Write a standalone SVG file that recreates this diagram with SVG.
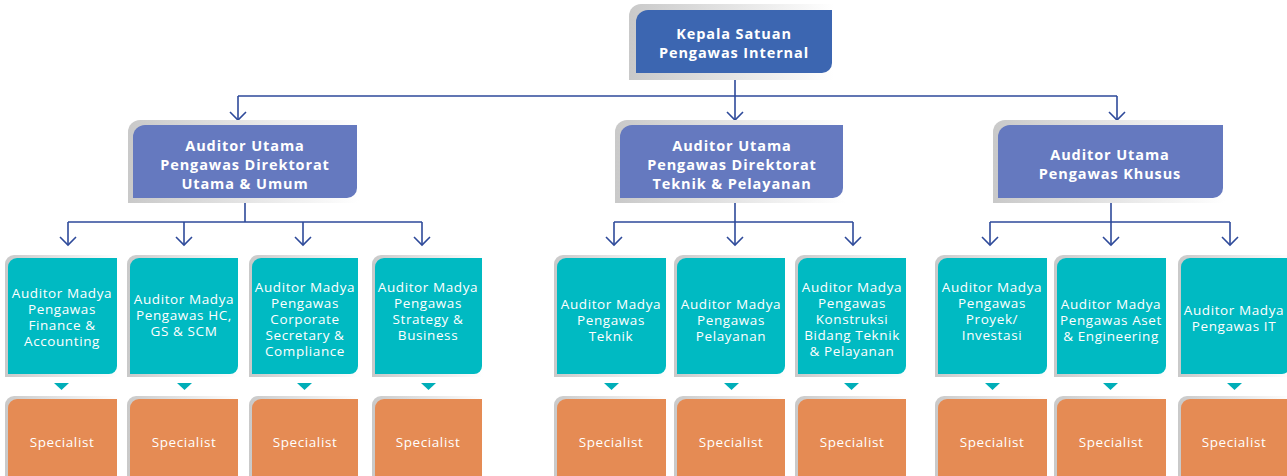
<svg xmlns="http://www.w3.org/2000/svg" width="1287" height="476" viewBox="0 0 1287 476">
<defs>
<linearGradient id="shadow" x1="0" y1="0" x2="1" y2="0">
<stop offset="0" stop-color="#c9c9c9"/>
<stop offset="0.5" stop-color="#e4e4e4"/>
<stop offset="1" stop-color="#ffffff"/>
</linearGradient>
<marker id="arr" markerUnits="userSpaceOnUse" markerWidth="20" markerHeight="20" viewBox="-10 -10 20 20" refX="0" refY="0" orient="auto">
<path d="M-8,-8 L0,0 L-8,8" fill="none" stroke="#2E4A9A" stroke-width="1.6"/>
</marker>
</defs>
<style>
.sh{fill:url(#shadow)}
.top{fill:#3C66B1}
.l2{fill:#6579BF}
.l3{fill:#00BAC2}
.sp{fill:#E58B54}
.tri{fill:#00AEB8}
.t1{font-family:"Open Sans","Liberation Sans",sans-serif;font-weight:700;font-size:14.5px;letter-spacing:0.9px;fill:#fff;text-anchor:middle;dominant-baseline:central}
.t3{font-family:"Open Sans","Liberation Sans",sans-serif;font-size:13.5px;letter-spacing:0.6px;fill:#fff;text-anchor:middle;dominant-baseline:central}
.con path{fill:none;stroke:#2E4A9A;stroke-width:1.6}
</style>

<g class="con" id="connectors">
<path d="M735,80 V96 M238,96 H1117"/>
<path d="M238,96 V120" marker-end="url(#arr)"/>
<path d="M735,96 V120" marker-end="url(#arr)"/>
<path d="M1117,96 V120" marker-end="url(#arr)"/>
<path d="M245,203 V222 M68,222 H422"/>
<path d="M68,222 V245" marker-end="url(#arr)"/>
<path d="M184,222 V245" marker-end="url(#arr)"/>
<path d="M303,222 V245" marker-end="url(#arr)"/>
<path d="M422,222 V245" marker-end="url(#arr)"/>
<path d="M735,203 V222 M614,222 H853"/>
<path d="M614,222 V245" marker-end="url(#arr)"/>
<path d="M735,222 V245" marker-end="url(#arr)"/>
<path d="M853,222 V245" marker-end="url(#arr)"/>
<path d="M1111,203 V222 M990,222 H1230"/>
<path d="M990,222 V245" marker-end="url(#arr)"/>
<path d="M1111,222 V245" marker-end="url(#arr)"/>
<path d="M1230,222 V245" marker-end="url(#arr)"/>
</g>

<g id="kepala">
<path class="sh" d="M641,4 H834 V80 H629 V16 A12,12 0 0 1 641,4 Z"/>
<path class="top" d="M648,10 H832 V63 A10,10 0 0 1 822,73 H636 V22 A12,12 0 0 1 648,10 Z"/>
<text class="t1" x="734" y="33">Kepala Satuan</text>
<text class="t1" x="734" y="52">Pengawas Internal</text>
</g>

<g id="au-utama-umum">
<path class="sh" d="M140,120 H359 V203 H128 V132 A12,12 0 0 1 140,120 Z"/>
<path class="l2" d="M145,125 H357 V188 A10,10 0 0 1 347,198 H133 V137 A12,12 0 0 1 145,125 Z"/>
<text class="t1" x="245" y="145">Auditor Utama</text>
<text class="t1" x="245" y="164">Pengawas Direktorat</text>
<text class="t1" x="245" y="183">Utama &amp; Umum</text>
</g>

<g id="au-teknik">
<path class="sh" d="M627,120 H845 V203 H615 V132 A12,12 0 0 1 627,120 Z"/>
<path class="l2" d="M632,125 H843 V188 A10,10 0 0 1 833,198 H620 V137 A12,12 0 0 1 632,125 Z"/>
<text class="t1" x="732" y="145">Auditor Utama</text>
<text class="t1" x="732" y="164">Pengawas Direktorat</text>
<text class="t1" x="732" y="183">Teknik &amp; Pelayanan</text>
</g>

<g id="au-khusus">
<path class="sh" d="M1005,120 H1225 V203 H993 V132 A12,12 0 0 1 1005,120 Z"/>
<path class="l2" d="M1010,125 H1223 V188 A10,10 0 0 1 1213,198 H998 V137 A12,12 0 0 1 1010,125 Z"/>
<text class="t1" x="1110" y="154">Auditor Utama</text>
<text class="t1" x="1110" y="173">Pengawas Khusus</text>
</g>

<!-- Level 3 teal boxes -->
<g id="am-finance">
<path class="sh" d="M14,255 H118 V377 H5 V264 A9,9 0 0 1 14,255 Z"/>
<path class="l3" d="M17,258 H117 V366 A8,8 0 0 1 109,374 H8 V267 A9,9 0 0 1 17,258 Z"/>
<text class="t3" x="62" y="293">Auditor Madya</text>
<text class="t3" x="62" y="309">Pengawas</text>
<text class="t3" x="62" y="325">Finance &amp;</text>
<text class="t3" x="62" y="341">Accounting</text>
</g>
<g id="am-hc">
<path class="sh" d="M136,255 H239 V377 H127 V264 A9,9 0 0 1 136,255 Z"/>
<path class="l3" d="M139,258 H238 V366 A8,8 0 0 1 230,374 H130 V267 A9,9 0 0 1 139,258 Z"/>
<text class="t3" x="184" y="299">Auditor Madya</text>
<text class="t3" x="184" y="315">Pengawas HC,</text>
<text class="t3" x="184" y="331">GS &amp; SCM</text>
</g>
<g id="am-corsec">
<path class="sh" d="M258,255 H359 V377 H249 V264 A9,9 0 0 1 258,255 Z"/>
<path class="l3" d="M261,258 H358 V366 A8,8 0 0 1 350,374 H252 V267 A9,9 0 0 1 261,258 Z"/>
<text class="t3" x="305" y="287">Auditor Madya</text>
<text class="t3" x="305" y="303">Pengawas</text>
<text class="t3" x="305" y="319">Corporate</text>
<text class="t3" x="305" y="335">Secretary &amp;</text>
<text class="t3" x="305" y="351">Compliance</text>
</g>
<g id="am-strategy">
<path class="sh" d="M381,255 H483 V377 H372 V264 A9,9 0 0 1 381,255 Z"/>
<path class="l3" d="M384,258 H482 V366 A8,8 0 0 1 474,374 H375 V267 A9,9 0 0 1 384,258 Z"/>
<text class="t3" x="428" y="287">Auditor Madya</text>
<text class="t3" x="428" y="303">Pengawas</text>
<text class="t3" x="428" y="319">Strategy &amp;</text>
<text class="t3" x="428" y="335">Business</text>
</g>
<g id="am-teknik">
<path class="sh" d="M563,255 H667 V377 H554 V264 A9,9 0 0 1 563,255 Z"/>
<path class="l3" d="M566,258 H666 V366 A8,8 0 0 1 658,374 H557 V267 A9,9 0 0 1 566,258 Z"/>
<text class="t3" x="611" y="304">Auditor Madya</text>
<text class="t3" x="611" y="320">Pengawas</text>
<text class="t3" x="611" y="336">Teknik</text>
</g>
<g id="am-pelayanan">
<path class="sh" d="M683,255 H786 V377 H674 V264 A9,9 0 0 1 683,255 Z"/>
<path class="l3" d="M686,258 H785 V366 A8,8 0 0 1 777,374 H677 V267 A9,9 0 0 1 686,258 Z"/>
<text class="t3" x="731" y="304">Auditor Madya</text>
<text class="t3" x="731" y="320">Pengawas</text>
<text class="t3" x="731" y="336">Pelayanan</text>
</g>
<g id="am-konstruksi">
<path class="sh" d="M804,255 H907 V377 H795 V264 A9,9 0 0 1 804,255 Z"/>
<path class="l3" d="M807,258 H906 V366 A8,8 0 0 1 898,374 H798 V267 A9,9 0 0 1 807,258 Z"/>
<text class="t3" x="852" y="287">Auditor Madya</text>
<text class="t3" x="852" y="303">Pengawas</text>
<text class="t3" x="852" y="319">Konstruksi</text>
<text class="t3" x="852" y="335">Bidang Teknik</text>
<text class="t3" x="852" y="351">&amp; Pelayanan</text>
</g>
<g id="am-proyek">
<path class="sh" d="M944,255 H1048 V377 H935 V264 A9,9 0 0 1 944,255 Z"/>
<path class="l3" d="M947,258 H1047 V366 A8,8 0 0 1 1039,374 H938 V267 A9,9 0 0 1 947,258 Z"/>
<text class="t3" x="992" y="287">Auditor Madya</text>
<text class="t3" x="992" y="303">Pengawas</text>
<text class="t3" x="992" y="319">Proyek/</text>
<text class="t3" x="992" y="335">Investasi</text>
</g>
<g id="am-aset">
<path class="sh" d="M1063,255 H1167 V377 H1054 V264 A9,9 0 0 1 1063,255 Z"/>
<path class="l3" d="M1066,258 H1166 V366 A8,8 0 0 1 1158,374 H1057 V267 A9,9 0 0 1 1066,258 Z"/>
<text class="t3" x="1111" y="304">Auditor Madya</text>
<text class="t3" x="1111" y="320">Pengawas Aset</text>
<text class="t3" x="1111" y="336">&amp; Engineering</text>
</g>
<g id="am-it">
<path class="sh" d="M1187,255 H1292 V377 H1178 V264 A9,9 0 0 1 1187,255 Z"/>
<path class="l3" d="M1190,258 H1290 V366 A8,8 0 0 1 1282,374 H1181 V267 A9,9 0 0 1 1190,258 Z"/>
<text class="t3" x="1234" y="310">Auditor Madya</text>
<text class="t3" x="1234" y="326">Pengawas IT</text>
</g>

<!-- triangles -->
<g id="triangles">
<polygon class="tri" points="54,383 69,383 61.5,390"/>
<polygon class="tri" points="177,383 192,383 184.5,390"/>
<polygon class="tri" points="297,383 312,383 304.5,390"/>
<polygon class="tri" points="421,383 436,383 428.5,390"/>
<polygon class="tri" points="604,383 619,383 611.5,390"/>
<polygon class="tri" points="724,383 739,383 731.5,390"/>
<polygon class="tri" points="844,383 859,383 851.5,390"/>
<polygon class="tri" points="985,383 1000,383 992.5,390"/>
<polygon class="tri" points="1103,383 1118,383 1110.5,390"/>
<polygon class="tri" points="1227,383 1242,383 1234.5,390"/>
</g>

<!-- specialists -->
<g id="sp-1"><path class="sh" d="M14,396 H118 V480 H5 V405 A9,9 0 0 1 14,396 Z"/><path class="sp" d="M17,399 H117 V480 H8 V408 A9,9 0 0 1 17,399 Z"/><text class="t3" x="62" y="442">Specialist</text></g>
<g id="sp-2"><path class="sh" d="M136,396 H239 V480 H127 V405 A9,9 0 0 1 136,396 Z"/><path class="sp" d="M139,399 H238 V480 H130 V408 A9,9 0 0 1 139,399 Z"/><text class="t3" x="184" y="442">Specialist</text></g>
<g id="sp-3"><path class="sh" d="M258,396 H359 V480 H249 V405 A9,9 0 0 1 258,396 Z"/><path class="sp" d="M261,399 H358 V480 H252 V408 A9,9 0 0 1 261,399 Z"/><text class="t3" x="305" y="442">Specialist</text></g>
<g id="sp-4"><path class="sh" d="M381,396 H483 V480 H372 V405 A9,9 0 0 1 381,396 Z"/><path class="sp" d="M384,399 H482 V480 H375 V408 A9,9 0 0 1 384,399 Z"/><text class="t3" x="428" y="442">Specialist</text></g>
<g id="sp-5"><path class="sh" d="M563,396 H667 V480 H554 V405 A9,9 0 0 1 563,396 Z"/><path class="sp" d="M566,399 H666 V480 H557 V408 A9,9 0 0 1 566,399 Z"/><text class="t3" x="611" y="442">Specialist</text></g>
<g id="sp-6"><path class="sh" d="M683,396 H786 V480 H674 V405 A9,9 0 0 1 683,396 Z"/><path class="sp" d="M686,399 H785 V480 H677 V408 A9,9 0 0 1 686,399 Z"/><text class="t3" x="731" y="442">Specialist</text></g>
<g id="sp-7"><path class="sh" d="M804,396 H907 V480 H795 V405 A9,9 0 0 1 804,396 Z"/><path class="sp" d="M807,399 H906 V480 H798 V408 A9,9 0 0 1 807,399 Z"/><text class="t3" x="852" y="442">Specialist</text></g>
<g id="sp-8"><path class="sh" d="M944,396 H1048 V480 H935 V405 A9,9 0 0 1 944,396 Z"/><path class="sp" d="M947,399 H1047 V480 H938 V408 A9,9 0 0 1 947,399 Z"/><text class="t3" x="992" y="442">Specialist</text></g>
<g id="sp-9"><path class="sh" d="M1063,396 H1167 V480 H1054 V405 A9,9 0 0 1 1063,396 Z"/><path class="sp" d="M1066,399 H1166 V480 H1057 V408 A9,9 0 0 1 1066,399 Z"/><text class="t3" x="1111" y="442">Specialist</text></g>
<g id="sp-10"><path class="sh" d="M1187,396 H1292 V480 H1178 V405 A9,9 0 0 1 1187,396 Z"/><path class="sp" d="M1190,399 H1290 V480 H1181 V408 A9,9 0 0 1 1190,399 Z"/><text class="t3" x="1234" y="442">Specialist</text></g>
</svg>
